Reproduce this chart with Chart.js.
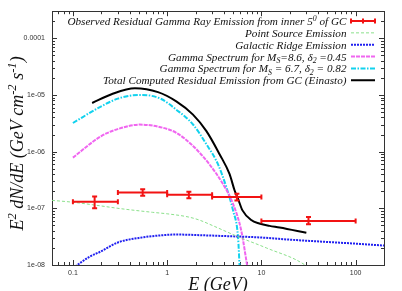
<!DOCTYPE html>
<html><head><meta charset="utf-8">
<script src="https://cdn.jsdelivr.net/npm/chart.js@4/dist/chart.umd.min.js"></script>
<style>html,body{margin:0;padding:0;background:#fff;}#wrap{width:402px;height:291px;}</style>
</head><body><div id="wrap"><canvas id="c" width="402" height="291"></canvas></div>
<script>
// ---- Data ----
const obsE    = [0.17, 0.55, 1.7, 5.5, 31.6];
const obsEmin = [0.1, 0.3, 1, 3, 10];
const obsEmax = [0.3, 1, 3, 10, 100];
const obsFlux = [1.31e-7, 1.9e-7, 1.73e-7, 1.58e-7, 6.0e-8];
const obsLow  = [1.0e-7, 1.67e-7, 1.5e-7, 1.38e-7, 5.25e-8];
const obsHigh = [1.62e-7, 2.17e-7, 1.96e-7, 1.8e-7, 7.05e-8];

const psE    = [0.06, 0.1, 0.2, 0.3, 0.7, 1.0, 1.7, 2.2, 3, 5.8, 11.3, 29, 30];
const psFlux = [1.38e-7, 1.28e-7, 1.1e-7, 1.0e-7, 8.5e-8, 8.0e-8, 7.0e-8, 6.2e-8, 5.0e-8, 3.1e-8, 2.0e-8, 1.0e-8, 9.5e-9];

const grE    = [0.1, 0.15, 0.2, 0.3, 0.5, 0.8, 1.25, 2, 3, 10, 20, 50, 100, 200];
const grFlux = [8.8e-9, 1.4e-8, 1.75e-8, 2.5e-8, 3.0e-8, 3.3e-8, 3.45e-8, 3.38e-8, 3.3e-8, 3.05e-8, 2.8e-8, 2.55e-8, 2.38e-8, 2.2e-8];

const m86E    = [0.1, 0.2, 0.33, 0.51, 0.85, 1.25, 1.88, 2.8, 3.9, 5.0, 6.1, 7.2];
const m86Flux = [7.85e-7, 1.88e-6, 2.63e-6, 3.0e-6, 2.7e-6, 2.15e-6, 1.26e-6, 6.0e-7, 2.7e-7, 1.2e-7, 4.1e-8, 8e-9];

const m67E    = [0.1, 0.2, 0.3, 0.42, 0.535, 0.85, 1.25, 1.88, 2.61, 3.46, 4.25, 5.0, 5.65, 5.9];
const m67Flux = [3.2e-6, 6.3e-6, 8.6e-6, 9.8e-6, 1.0e-5, 8.6e-6, 5.5e-6, 3.01e-6, 1.35e-6, 6.0e-7, 2.35e-7, 9.2e-8, 3.1e-8, 8e-9];

const totE    = [0.16, 0.257, 0.455, 0.8, 1.25, 1.88, 2.61, 3.6, 4.6, 5.2, 5.65, 6.3, 7.8, 9.5, 12.2, 15.6, 30];
const totFlux = [7.2e-6, 1.03e-5, 1.31e-5, 1.12e-5, 7.7e-6, 4.5e-6, 2.3e-6, 9.0e-7, 4.0e-7, 2.06e-7, 1.47e-7, 9.2e-8, 6.2e-8, 5.4e-8, 4.9e-8, 4.6e-8, 3.7e-8];

const labels = [
  'Observed Residual Gamma Ray Emission from inner 5^{0} of GC',
  'Point Source Emission',
  'Galactic Ridge Emission',
  'Gamma Spectrum for M_{S}=8.6, \u03b4_{2} =0.45',
  'Gamma Spectrum for M_{S} = 6.7, \u03b4_{2} = 0.82',
  'Total Computed Residual Emission from GC (Einasto)'
];

const xTickVals = [0.1, 1, 10, 100];
const xTickLabels = ['0.1', '1', '10', '100'];
const yTickVals = [1e-8, 1e-7, 1e-6, 1e-5, 1e-4];
const yTickLabels = ['1e-08', '1e-07', '1e-06', '1e-05', '0.0001'];

const xTitle = 'E (GeV)';
const yTitle = 'E^{2} dN/dE (GeV cm^{-2} s^{-1})';

// ---- helpers ----
const pts = (xs, ys) => xs.map((x, i) => ({x: x, y: ys[i]}));
const SERIF = "'Liberation Serif', 'Times New Roman', serif";

function parseRich(s) {
  const segs = []; const re = /([_^])\{([^}]*)\}/g; let last = 0, m;
  while ((m = re.exec(s))) {
    if (m.index > last) segs.push({t: s.slice(last, m.index), k: 0});
    segs.push({t: m[2], k: m[1] === '_' ? -1 : 1});
    last = re.lastIndex;
  }
  if (last < s.length) segs.push({t: s.slice(last), k: 0});
  return segs;
}
function segFont(size, k) { return 'italic ' + (k ? size * 0.7 : size) + 'px ' + SERIF; }
function richWidth(ctx, segs, size) {
  let w = 0;
  segs.forEach(sg => { ctx.font = segFont(size, sg.k); w += ctx.measureText(sg.t).width; });
  return w;
}
function drawRich(ctx, segs, x, y, size) {
  segs.forEach(sg => {
    ctx.font = segFont(size, sg.k);
    const dy = sg.k === 1 ? -size * 0.4 : (sg.k === -1 ? size * 0.25 : 0);
    ctx.fillText(sg.t, x, y + dy);
    x += ctx.measureText(sg.t).width;
  });
}

const frameColor = '#333';

const decorPlugin = {
  id: 'decor',
  beforeDatasetsDraw(chart) {
    const ctx = chart.ctx, a = chart.chartArea;
    const xs = chart.scales.x, ys = chart.scales.y;
    ctx.save();
    ctx.strokeStyle = frameColor; ctx.lineWidth = 1;
    ctx.beginPath();
    const drawTicks = (scale, horiz) => {
      for (let p = -9; p <= 3; p++) {
        for (let k = 1; k <= 9; k++) {
          const v = k * Math.pow(10, p);
          if (v < scale.min * 0.9999 || v > scale.max * 1.0001) continue;
          const len = k === 1 ? 5 : 3;
          const pix = Math.round(scale.getPixelForValue(v)) + 0.5;
          if (horiz) {
            ctx.moveTo(pix, a.bottom); ctx.lineTo(pix, a.bottom - len);
            ctx.moveTo(pix, a.top); ctx.lineTo(pix, a.top + len);
          } else {
            ctx.moveTo(a.left, pix); ctx.lineTo(a.left + len, pix);
            ctx.moveTo(a.right, pix); ctx.lineTo(a.right - len, pix);
          }
        }
      }
    };
    drawTicks(xs, true); drawTicks(ys, false);
    ctx.stroke();
    ctx.strokeRect(Math.round(a.left) + 0.5, Math.round(a.top) + 0.5, Math.round(a.right - a.left), Math.round(a.bottom - a.top));
    ctx.restore();
  },
  afterDatasetsDraw(chart) {
    const ctx = chart.ctx, a = chart.chartArea;
    const xs = chart.scales.x, ys = chart.scales.y;
    const ds = chart.data.datasets[0];
    ctx.save();
    ctx.beginPath(); ctx.rect(a.left, a.top, a.right - a.left, a.bottom - a.top); ctx.clip();
    ctx.strokeStyle = ds.borderColor; ctx.lineWidth = 2; ctx.setLineDash([]);
    ds.data.forEach(d => {
      const x0 = xs.getPixelForValue(d.xMin), x1 = xs.getPixelForValue(d.xMax);
      const xc = xs.getPixelForValue(d.x), yc = ys.getPixelForValue(d.y);
      const yl = ys.getPixelForValue(d.yMin), yh = ys.getPixelForValue(d.yMax);
      ctx.beginPath();
      ctx.moveTo(x0, yc); ctx.lineTo(x1, yc);
      ctx.moveTo(x0, yc - 2.5); ctx.lineTo(x0, yc + 2.5);
      ctx.moveTo(x1, yc - 2.5); ctx.lineTo(x1, yc + 2.5);
      ctx.moveTo(xc, yl); ctx.lineTo(xc, yh);
      ctx.moveTo(xc - 2.5, yl); ctx.lineTo(xc + 2.5, yl);
      ctx.moveTo(xc - 2.5, yh); ctx.lineTo(xc + 2.5, yh);
      ctx.stroke();
    });
    ctx.restore();
  },
  afterDraw(chart) {
    const ctx = chart.ctx, a = chart.chartArea;
    ctx.save();
    ctx.fillStyle = '#111';
    ctx.textBaseline = 'alphabetic';
    const size = 11.2, rightText = 346.5, s0 = 351, s1 = 375;
    chart.data.datasets.forEach((ds, i) => {
      const yc = 21 + i * 11.85;
      const segs = parseRich(ds.label);
      const w = richWidth(ctx, segs, size);
      ctx.fillStyle = '#111';
      drawRich(ctx, segs, rightText - w, yc + 4, size);
      ctx.save();
      ctx.strokeStyle = ds.borderColor; ctx.lineWidth = ds.borderWidth;
      ctx.setLineDash(ds.borderDash || []);
      ctx.beginPath(); ctx.moveTo(s0, yc); ctx.lineTo(s1, yc); ctx.stroke();
      if (i === 0) {
        ctx.setLineDash([]);
        ctx.beginPath();
        [s0, (s0 + s1) / 2, s1].forEach(x => { ctx.moveTo(x, yc - 2.5); ctx.lineTo(x, yc + 2.5); });
        ctx.stroke();
      }
      ctx.restore();
    });
    ctx.fillStyle = '#111';
    const xt = parseRich(xTitle);
    const xw = richWidth(ctx, xt, 18);
    drawRich(ctx, xt, (a.left + a.right) / 2 - xw / 2, 290, 18);
    const yt = parseRich(yTitle);
    const yw = richWidth(ctx, yt, 18);
    ctx.translate(23, 143.5);
    ctx.rotate(-Math.PI / 2);
    drawRich(ctx, yt, -yw / 2, 0, 18);
    ctx.restore();
  }
};

const chart = new Chart(document.getElementById('c'), {
  type: 'scatter',
  data: {
    datasets: [
      { label: labels[0], data: obsE.map((x, i) => ({x: x, y: obsFlux[i], xMin: obsEmin[i], xMax: obsEmax[i], yMin: obsLow[i], yMax: obsHigh[i]})),
        borderColor: '#f21313', backgroundColor: '#f21313', borderWidth: 2, showLine: false, pointRadius: 0 },
      { label: labels[1], data: pts(psE, psFlux), borderColor: '#8be08b', borderWidth: 1, borderDash: [3, 2], showLine: true, pointRadius: 0, cubicInterpolationMode: 'monotone' },
      { label: labels[2], data: pts(grE, grFlux), borderColor: '#2020f0', borderWidth: 2, borderDash: [2, 1], showLine: true, pointRadius: 0, cubicInterpolationMode: 'monotone' },
      { label: labels[3], data: pts(m86E, m86Flux), borderColor: '#f066f0', borderWidth: 2, borderDash: [4, 1], showLine: true, pointRadius: 0, cubicInterpolationMode: 'monotone' },
      { label: labels[4], data: pts(m67E, m67Flux), borderColor: '#12d2ee', borderWidth: 2, borderDash: [5, 1.5, 1.5, 1.5], showLine: true, pointRadius: 0, cubicInterpolationMode: 'monotone' },
      { label: labels[5], data: pts(totE, totFlux), borderColor: '#000000', borderWidth: 2, showLine: true, pointRadius: 0, cubicInterpolationMode: 'monotone' }
    ]
  },
  options: {
    responsive: false, animation: false, devicePixelRatio: 1,
    layout: { padding: { top: 9, right: 18, left: 0, bottom: 0 } },
    plugins: { legend: { display: false }, tooltip: { enabled: false } },
    scales: {
      x: {
        type: 'logarithmic', min: 0.06, max: 200,
        afterFit(s) { s.height = 26; },
        afterBuildTicks(s) { s.ticks = xTickVals.map(v => ({value: v})); },
        ticks: { autoSkip: false, maxRotation: 0, padding: 4, color: '#333', font: { family: "'Liberation Sans', Arial, sans-serif", size: 7 },
                 callback: (v, i) => xTickLabels[i] },
        grid: { display: false, drawTicks: false }, border: { display: false }
      },
      y: {
        type: 'logarithmic', min: 1e-8, max: 3e-4,
        afterFit(s) { s.width = 52; },
        afterBuildTicks(s) { s.ticks = yTickVals.map(v => ({value: v})); },
        ticks: { autoSkip: false, padding: 7, color: '#333', font: { family: "'Liberation Sans', Arial, sans-serif", size: 7 },
                 callback: (v, i) => yTickLabels[i] },
        grid: { display: false, drawTicks: false }, border: { display: false }
      }
    }
  },
  plugins: [decorPlugin]
});
</script></body></html>
